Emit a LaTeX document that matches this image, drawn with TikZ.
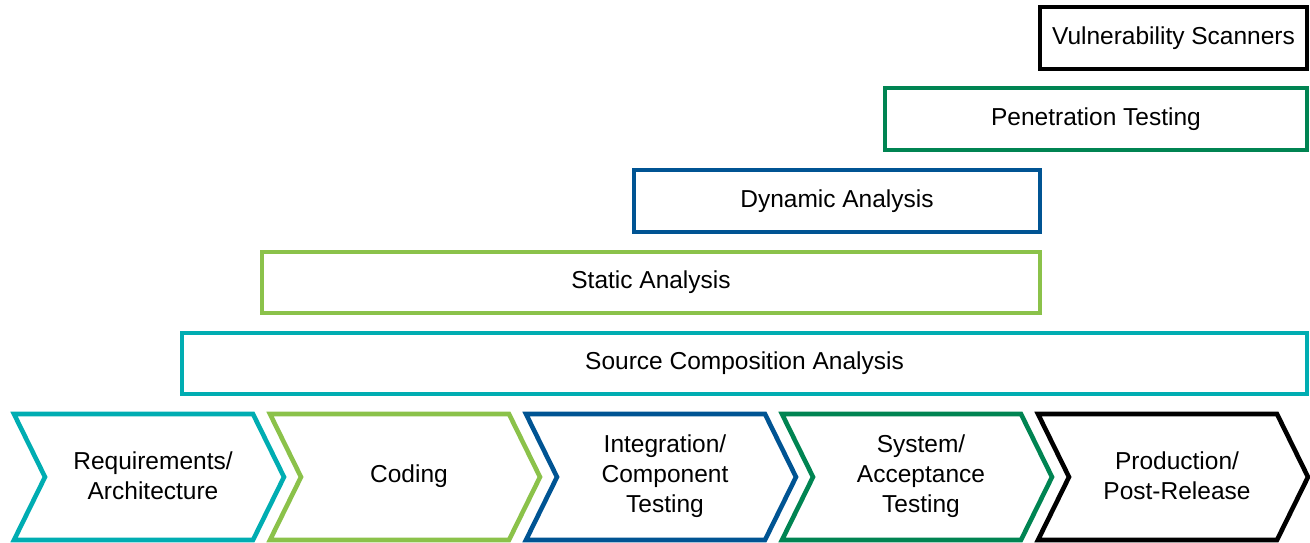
\documentclass[tikz,border=0pt]{standalone}
\usepackage{fontspec}
\setmainfont{Liberation Sans}
\definecolor{cteal}{RGB}{0,173,178}
\definecolor{clime}{RGB}{139,194,74}
\definecolor{cblue}{RGB}{0,84,147}
\definecolor{cgreen}{RGB}{0,132,82}
\definecolor{cblack}{RGB}{0,0,0}
\tikzset{
  toolbox/.style={draw=#1, line width=4.6pt, fill=white, inner sep=0pt,
    minimum height=62pt, font=\fontsize{24.5}{30}\selectfont, text=black},
  phase/.style={draw=#1, line width=4.6pt, fill=white, line join=miter},
  phasetext/.style={align=center, font=\fontsize{24.5}{30}\selectfont, text=black},
}
\begin{document}
\begin{tikzpicture}[x=1pt,y=-1pt]
\useasboundingbox (0,0) rectangle (1310,542);

% security tools, each spanning the phases it applies to
\node[toolbox=cblack, minimum width=267pt] (vs) at (1173.5,38) {Vulnerability Scanners};
\node[toolbox=cgreen, minimum width=422pt] (pt) at (1096,119) {Penetration Testing};
\node[toolbox=cblue, minimum width=406pt] (da) at (837,201) {Dynamic Analysis};
\node[toolbox=clime, minimum width=778pt, minimum height=61pt] (sa) at (651,282.5) {Static Analysis};
\node[toolbox=cteal, minimum width=1125pt, minimum height=61pt] (sca) at (744.5,363.5) {Source Composition Analysis};

% lifecycle chevrons
\foreach \s/\c/\n/\t in {
  14/cteal/req/{Requirements/\\Architecture},
  270/clime/cod/{Coding},
  526/cblue/int/{Integration/\\Component\\Testing},
  782/cgreen/sys/{System/\\Acceptance\\Testing},
  1038/cblack/prod/{Production/\\Post-Release}}{
  \draw[phase=\c] (\s,414) -- (\s+239,414) -- (\s+270,477) -- (\s+239,540)
     -- (\s,540) -- (\s+31,477) -- cycle;
  \node[phasetext] (\n) at (\s+139,476) {\t};
}
\end{tikzpicture}
\end{document}
